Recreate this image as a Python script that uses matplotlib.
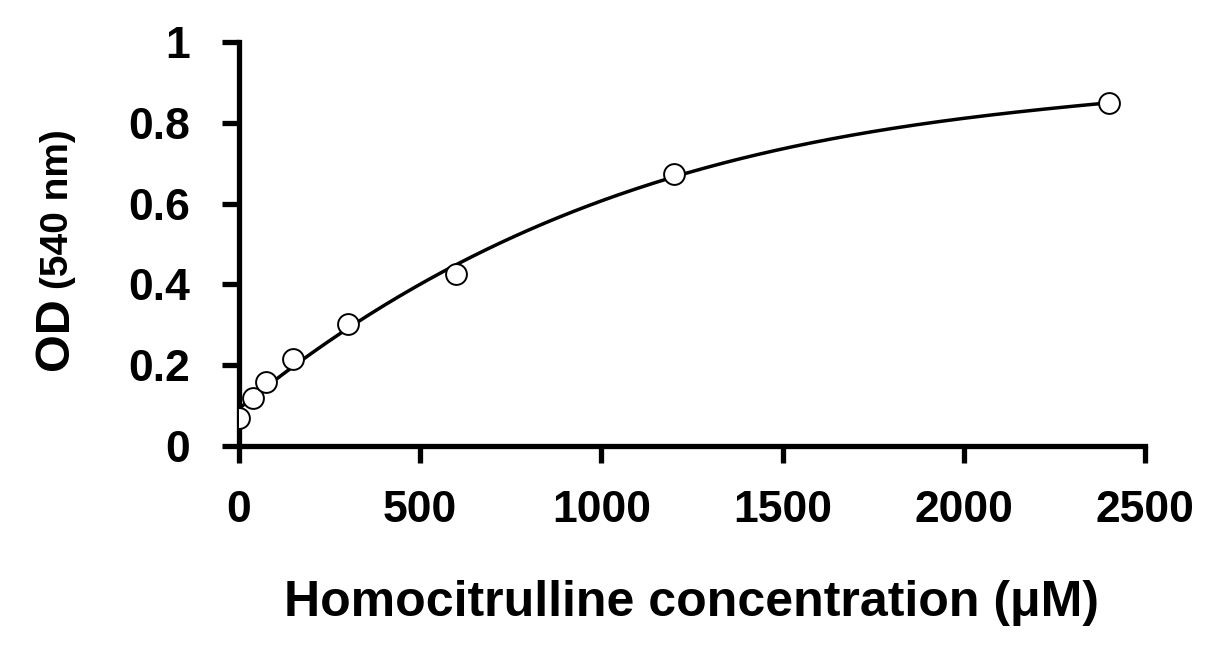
import numpy as np
import matplotlib.pyplot as plt

# standard curve points
conc = [0, 37.5, 75, 150, 300, 600, 1200, 2400]
od = [0.069, 0.119, 0.158, 0.215, 0.302, 0.426, 0.673, 0.849]

x_ticks = [0, 500, 1000, 1500, 2000, 2500]
y_ticks = [0, 0.2, 0.4, 0.6, 0.8, 1]
y_labels = ['0', '0.2', '0.4', '0.6', '0.8', '1']

plt.rcParams['font.family'] = ['Liberation Sans', 'DejaVu Sans']
plt.rcParams['font.weight'] = 'bold'

fig = plt.figure(figsize=(12.18, 6.64), dpi=100)
ax = fig.add_axes([0.1962, 0.3283, 0.7438, 0.6084])

# trend line: 3rd order polynomial fit
coef = np.polyfit(conc, od, 3)
xs = np.linspace(0, 2400, 300)
ax.plot(xs, np.polyval(coef, xs), color='black', lw=2.5, zorder=2)
ax.plot(conc, od, 'o', ms=15, mfc='white', mec='black', mew=1.4, zorder=3)

ax.set_xlim(0, 2500)
ax.set_ylim(0, 1)
ax.set_xticks(x_ticks)
ax.set_yticks(y_ticks)
ax.set_yticklabels(y_labels)
ax.spines['top'].set_visible(False)
ax.spines['right'].set_visible(False)
for s in ['left', 'bottom']:
    ax.spines[s].set_linewidth(3.8)
ax.tick_params(axis='both', width=3.8, length=12, labelsize=32)
ax.tick_params(axis='y', pad=23)
ax.tick_params(axis='x', pad=20)
for lbl in ax.get_xticklabels() + ax.get_yticklabels():
    lbl.set_fontweight('bold')

ax.set_xlabel('Homocitrulline concentration (μM)', fontsize=36, fontweight='bold', labelpad=35)

fig.text(0.0558, 0.4428, 'OD', rotation=90, rotation_mode='anchor', fontsize=35,
         fontweight='bold', ha='left', va='baseline')
fig.text(0.0558, 0.5647, '(540 nm)', rotation=90, rotation_mode='anchor', fontsize=28,
         fontweight='bold', ha='left', va='baseline')

fig.savefig('out.png', dpi=100)
